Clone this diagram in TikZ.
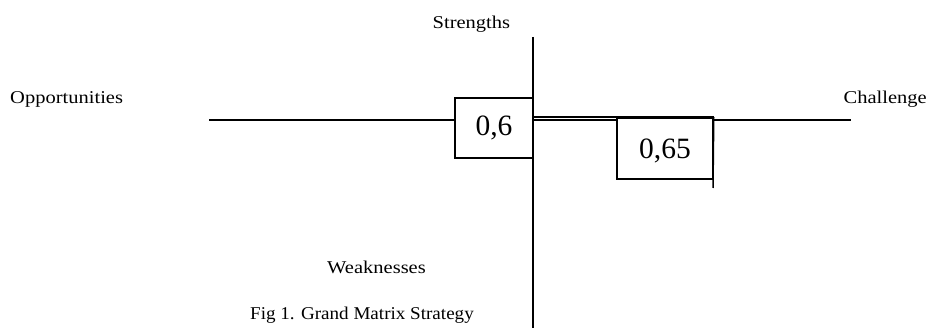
\documentclass[tikz,border=0pt]{standalone}
\usepackage{graphicx}
\usepackage{fontspec}
\setmainfont{Liberation Serif}
\usetikzlibrary{positioning}

\newcommand{\stretchlbl}[2][1.14]{\scalebox{#1}[1]{#2}}

\begin{document}
\begin{tikzpicture}[x=1pt,y=-1pt,
  axis/.style={black, line width=1.5pt},
  lbl/.style={inner sep=0pt, anchor=base, font=\fontsize{18}{21}\selectfont},
  valbox/.style={draw, black, line width=1.5pt, inner sep=0pt, font=\fontsize{29.5}{34}\selectfont}]
\useasboundingbox (0,0) rectangle (927,328);

% axis ends
\coordinate (left) at (209,120);
\coordinate (right) at (851,120);
\coordinate (top) at (533,37);
\coordinate (bottom) at (533,329);

\draw[axis] (left) -- (right);

% values
\node[valbox, minimum width=78pt, minimum height=60pt, fill=white] (v06) at (494,128) {0,6};
\node[valbox, minimum width=96pt, minimum height=61pt, fill=white, text depth=0pt] (v065) at (665,148.5) {0,65};
\coordinate (tail) at (713,188);
\draw[axis] (v065.north east -| top) -- (v065.north east);
\draw[axis] (v065.north east) -- (tail);
\draw[axis] (top) -- (bottom);

% labels
\node[lbl] (str) at (471.4,29) {\stretchlbl{Strengths}};
\node[lbl, anchor=base west] (opp) at (10,104) {\stretchlbl{Opportunities}};
\node[lbl, anchor=base east] (cha) at (927,104) {\stretchlbl{Challenge}};
\node[lbl] (weak) at (376.5,274) {\stretchlbl{Weaknesses}};
\node[lbl] (cap) at (362,320) {\stretchlbl[1.06]{Fig 1. Grand Matrix Strategy}};
\end{tikzpicture}
\end{document}
